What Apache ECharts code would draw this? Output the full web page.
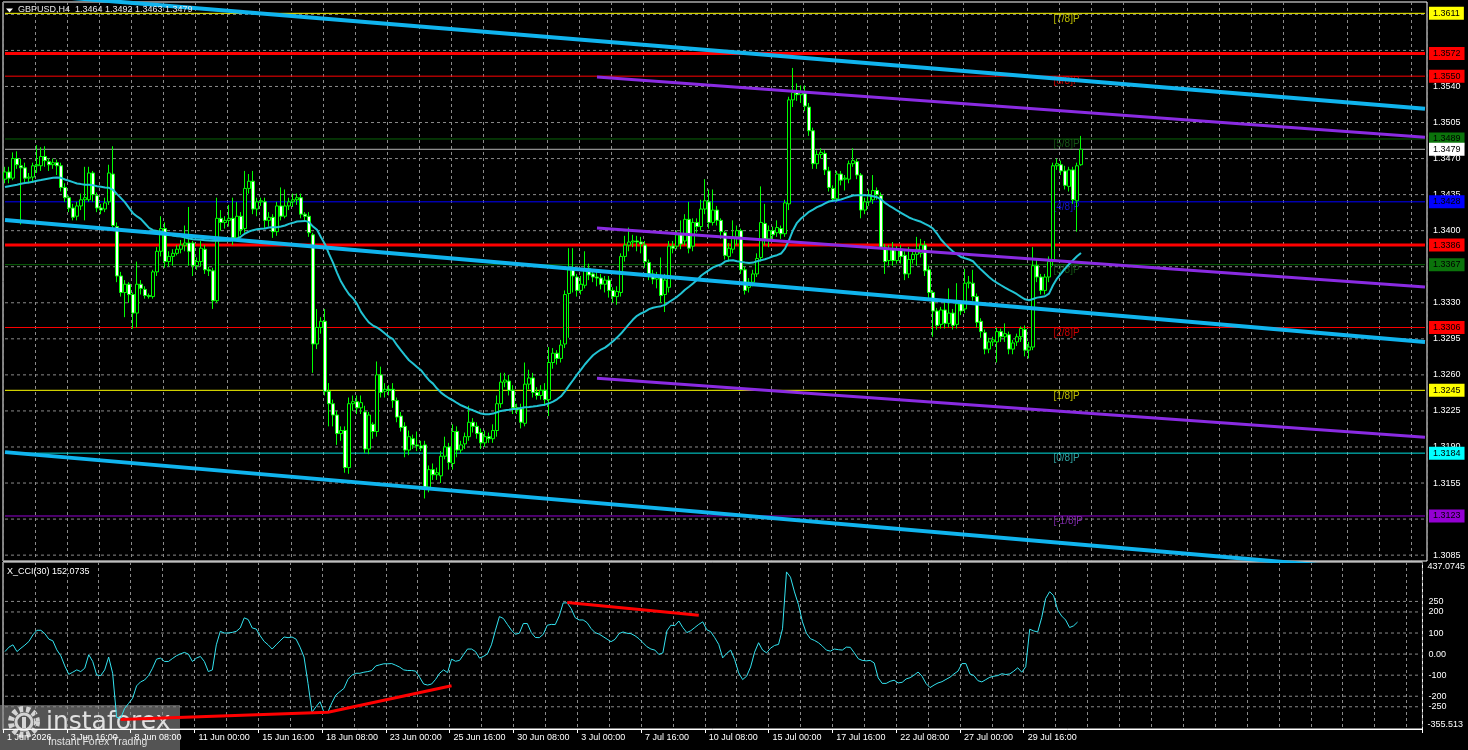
<!DOCTYPE html>
<html>
<head>
<meta charset="utf-8">
<script src="https://cdn.jsdelivr.net/npm/echarts@6/dist/echarts.min.js"></script>
<style>html,body{margin:0;padding:0;background:#000;overflow:hidden}#c{width:1468px;height:750px}</style>
</head>
<body>
<div id="c"></div>
<script>
// ---------------- DATA ----------------
const symbolTitle = 'GBPUSD,H4  1.3464 1.3492 1.3463 1.3479';
const cciTitle = 'X_CCI(30) 152.0735';

const tickLabels = ['1 Jun 2026','3 Jun 16:00','8 Jun 08:00','11 Jun 00:00','15 Jun 16:00','18 Jun 08:00',
  '23 Jun 00:00','25 Jun 16:00','30 Jun 08:00','3 Jul 00:00','7 Jul 16:00','10 Jul 08:00','15 Jul 00:00',
  '17 Jul 16:00','22 Jul 08:00','27 Jul 00:00','29 Jul 16:00'];

// [open, close, low, high]
const candles = [
[1.3450,1.3457,1.3446,1.3462],[1.3457,1.3451,1.3446,1.3462],[1.3451,1.3470,1.3449,1.3476],[1.3470,1.3464,1.3460,1.3477],
[1.3463,1.3461,1.3406,1.3470],[1.3461,1.3451,1.3447,1.3466],[1.3451,1.3452,1.3446,1.3456],[1.3452,1.3463,1.3448,1.3466],
[1.3463,1.3464,1.3456,1.3483],[1.3463,1.3472,1.3458,1.3481],[1.3472,1.3468,1.3462,1.3482],[1.3467,1.3464,1.3458,1.3470],
[1.3464,1.3466,1.3460,1.3470],[1.3466,1.3463,1.3454,1.3469],[1.3463,1.3442,1.3438,1.3466],[1.3442,1.3432,1.3428,1.3446],
[1.3432,1.3422,1.3418,1.3434],[1.3422,1.3413,1.3410,1.3426],[1.3414,1.3424,1.3410,1.3428],[1.3424,1.3430,1.3420,1.3436],
[1.3430,1.3432,1.3410,1.3462],[1.3430,1.3456,1.3428,1.3462],[1.3456,1.3435,1.3428,1.3458],[1.3434,1.3422,1.3418,1.3437],
[1.3422,1.3420,1.3416,1.3426],[1.3421,1.3427,1.3418,1.3432],[1.3428,1.3456,1.3425,1.3464],[1.3455,1.3405,1.3400,1.3482],
[1.3404,1.3356,1.3350,1.3408],[1.3356,1.3340,1.3336,1.3360],[1.3340,1.3348,1.3316,1.3352],[1.3348,1.3338,1.3330,1.3350],
[1.3338,1.3320,1.3305,1.3340],[1.3320,1.3348,1.3306,1.3370],[1.3348,1.3344,1.3338,1.3352],[1.3343,1.3337,1.3334,1.3346],
[1.3337,1.3336,1.3334,1.3339],[1.3336,1.3360,1.3334,1.3362],[1.3360,1.3380,1.3356,1.3384],[1.3380,1.3402,1.3375,1.3414],
[1.3402,1.3370,1.3364,1.3408],[1.3370,1.3375,1.3365,1.3380],[1.3375,1.3378,1.3366,1.3382],[1.3378,1.3382,1.3376,1.3386],
[1.3382,1.3386,1.3378,1.3391],[1.3386,1.3388,1.3380,1.3405],[1.3388,1.3380,1.3366,1.3423],[1.3388,1.3366,1.3356,1.3390],
[1.3366,1.3370,1.3362,1.3374],[1.3370,1.3383,1.3365,1.3390],[1.3382,1.3362,1.3358,1.3386],[1.3362,1.3361,1.3356,1.3365],
[1.3361,1.3332,1.3324,1.3364],[1.3332,1.3412,1.3330,1.3432],[1.3412,1.3408,1.3400,1.3420],[1.3408,1.3410,1.3402,1.3414],
[1.3410,1.3412,1.3404,1.3425],[1.3412,1.3393,1.3386,1.3432],[1.3393,1.3414,1.3390,1.3428],[1.3414,1.3401,1.3396,1.3418],
[1.3402,1.3441,1.3398,1.3458],[1.3441,1.3448,1.3436,1.3455],[1.3448,1.3421,1.3416,1.3458],[1.3421,1.3428,1.3414,1.3432],
[1.3428,1.3429,1.3424,1.3432],[1.3428,1.3410,1.3402,1.3432],[1.3410,1.3413,1.3404,1.3418],[1.3413,1.3399,1.3393,1.3416],
[1.3399,1.3424,1.3395,1.3428],[1.3424,1.3414,1.3410,1.3442],[1.3414,1.3424,1.3412,1.3440],[1.3424,1.3428,1.3420,1.3432],
[1.3428,1.3430,1.3423,1.3436],[1.3430,1.3432,1.3425,1.3436],[1.3432,1.3416,1.3412,1.3436],[1.3416,1.3414,1.3410,1.3418],
[1.3414,1.3398,1.3394,1.3418],[1.3396,1.3290,1.3262,1.3398],[1.3290,1.3306,1.3285,1.3324],[1.3306,1.3312,1.3300,1.3316],
[1.3312,1.3244,1.3240,1.3324],[1.3244,1.3232,1.3210,1.3252],[1.3232,1.3221,1.3210,1.3236],[1.3221,1.3203,1.3192,1.3225],
[1.3203,1.3206,1.3196,1.3210],[1.3206,1.3170,1.3165,1.3210],[1.3170,1.3232,1.3164,1.3238],[1.3232,1.3234,1.3225,1.3240],
[1.3234,1.3228,1.3222,1.3240],[1.3228,1.3233,1.3222,1.3240],[1.3224,1.3188,1.3184,1.3230],[1.3188,1.3221,1.3183,1.3224],
[1.3212,1.3205,1.3198,1.3214],[1.3205,1.3260,1.3200,1.3273],[1.3260,1.3243,1.3238,1.3268],[1.3244,1.3246,1.3238,1.3252],
[1.3246,1.3245,1.3240,1.3250],[1.3246,1.3235,1.3228,1.3252],[1.3235,1.3219,1.3214,1.3238],[1.3220,1.3209,1.3205,1.3224],
[1.3210,1.3187,1.3180,1.3214],[1.3187,1.3200,1.3182,1.3206],[1.3198,1.3192,1.3188,1.3202],[1.3192,1.3191,1.3186,1.3205],
[1.3191,1.3189,1.3186,1.3196],[1.3192,1.3151,1.3140,1.3196],[1.3151,1.3168,1.3146,1.3172],[1.3168,1.3163,1.3158,1.3174],
[1.3163,1.3165,1.3158,1.3170],[1.3162,1.3181,1.3155,1.3186],[1.3181,1.3190,1.3178,1.3200],[1.3190,1.3175,1.3168,1.3194],
[1.3174,1.3205,1.3168,1.3212],[1.3205,1.3187,1.3180,1.3210],[1.3187,1.3192,1.3184,1.3196],[1.3193,1.3200,1.3188,1.3204],
[1.3200,1.3214,1.3196,1.3230],[1.3214,1.3210,1.3204,1.3218],[1.3210,1.3203,1.3198,1.3214],[1.3204,1.3194,1.3188,1.3208],
[1.3194,1.3200,1.3190,1.3206],[1.3200,1.3198,1.3194,1.3204],[1.3198,1.3206,1.3194,1.3212],[1.3206,1.3232,1.3200,1.3240],
[1.3232,1.3253,1.3228,1.3262],[1.3253,1.3255,1.3248,1.3262],[1.3254,1.3245,1.3240,1.3260],[1.3245,1.3228,1.3222,1.3250],
[1.3228,1.3226,1.3222,1.3232],[1.3227,1.3214,1.3208,1.3232],[1.3213,1.3251,1.3210,1.3272],[1.3251,1.3257,1.3246,1.3265],
[1.3257,1.3243,1.3238,1.3262],[1.3243,1.3240,1.3236,1.3248],[1.3240,1.3245,1.3236,1.3250],[1.3245,1.3236,1.3230,1.3252],
[1.3236,1.3272,1.3220,1.3287],[1.3272,1.3281,1.3266,1.3286],[1.3281,1.3276,1.3270,1.3284],[1.3276,1.3289,1.3272,1.3294],
[1.3290,1.3338,1.3286,1.3342],[1.3339,1.3362,1.3296,1.3383],[1.3362,1.3356,1.3340,1.3383],[1.3355,1.3342,1.3336,1.3358],
[1.3342,1.3348,1.3338,1.3356],[1.3347,1.3363,1.3344,1.3380],[1.3363,1.3357,1.3352,1.3368],[1.3358,1.3355,1.3350,1.3362],
[1.3355,1.3354,1.3346,1.3360],[1.3354,1.3348,1.3343,1.3358],[1.3348,1.3352,1.3340,1.3356],[1.3352,1.3342,1.3335,1.3356],
[1.3342,1.3336,1.3330,1.3345],[1.3336,1.3341,1.3328,1.3346],[1.3340,1.3375,1.3336,1.3378],[1.3375,1.3386,1.3370,1.3395],
[1.3386,1.3389,1.3380,1.3403],[1.3389,1.3390,1.3384,1.3396],[1.3390,1.3389,1.3380,1.3395],[1.3389,1.3387,1.3378,1.3394],
[1.3386,1.3370,1.3364,1.3390],[1.3369,1.3358,1.3352,1.3372],[1.3358,1.3353,1.3348,1.3362],[1.3353,1.3355,1.3344,1.3360],
[1.3355,1.3337,1.3330,1.3374],[1.3338,1.3352,1.3321,1.3358],[1.3345,1.3385,1.3340,1.3390],[1.3385,1.3383,1.3378,1.3390],
[1.3385,1.3396,1.3382,1.3400],[1.3396,1.3387,1.3382,1.3410],[1.3390,1.3411,1.3386,1.3416],[1.3411,1.3383,1.3378,1.3428],
[1.3385,1.3408,1.3380,1.3412],[1.3408,1.3404,1.3398,1.3412],[1.3404,1.3421,1.3400,1.3430],[1.3421,1.3429,1.3416,1.3450],
[1.3428,1.3408,1.3402,1.3440],[1.3408,1.3420,1.3405,1.3440],[1.3420,1.3410,1.3405,1.3424],[1.3410,1.3399,1.3392,1.3412],
[1.3398,1.3376,1.3372,1.3400],[1.3375,1.3383,1.3370,1.3388],[1.3382,1.3394,1.3378,1.3410],[1.3394,1.3400,1.3386,1.3405],
[1.3400,1.3362,1.3358,1.3402],[1.3362,1.3342,1.3338,1.3365],[1.3345,1.3350,1.3340,1.3354],[1.3350,1.3358,1.3346,1.3362],
[1.3358,1.3373,1.3355,1.3378],[1.3374,1.3408,1.3370,1.3443],[1.3407,1.3392,1.3386,1.3426],[1.3392,1.3400,1.3384,1.3405],
[1.3400,1.3396,1.3390,1.3404],[1.3398,1.3403,1.3394,1.3410],[1.3402,1.3397,1.3392,1.3405],[1.3397,1.3427,1.3394,1.3430],
[1.3426,1.3527,1.3420,1.3530],[1.3527,1.3534,1.3520,1.3558],[1.3534,1.3532,1.3526,1.3543],[1.3532,1.3534,1.3524,1.3541],
[1.3533,1.3521,1.3516,1.3541],[1.3520,1.3497,1.3492,1.3524],[1.3497,1.3465,1.3460,1.3500],[1.3465,1.3474,1.3460,1.3478],
[1.3474,1.3476,1.3470,1.3480],[1.3475,1.3459,1.3454,1.3478],[1.3458,1.3442,1.3438,1.3462],[1.3441,1.3431,1.3428,1.3444],
[1.3431,1.3455,1.3428,1.3458],[1.3455,1.3449,1.3444,1.3458],[1.3450,1.3451,1.3439,1.3454],[1.3450,1.3465,1.3446,1.3468],
[1.3465,1.3468,1.3462,1.3480],[1.3467,1.3454,1.3450,1.3470],[1.3454,1.3420,1.3412,1.3456],[1.3420,1.3428,1.3416,1.3432],
[1.3428,1.3434,1.3424,1.3440],[1.3430,1.3439,1.3426,1.3454],[1.3439,1.3435,1.3430,1.3442],[1.3434,1.3384,1.3382,1.3437],
[1.3384,1.3370,1.3358,1.3387],[1.3371,1.3382,1.3366,1.3386],[1.3382,1.3371,1.3366,1.3389],[1.3371,1.3382,1.3368,1.3385],
[1.3382,1.3375,1.3368,1.3386],[1.3376,1.3358,1.3352,1.3380],[1.3358,1.3372,1.3354,1.3384],[1.3372,1.3377,1.3368,1.3380],
[1.3377,1.3382,1.3366,1.3394],[1.3378,1.3386,1.3374,1.3392],[1.3386,1.3361,1.3356,1.3390],[1.3362,1.3340,1.3334,1.3366],
[1.3340,1.3322,1.3297,1.3342],[1.3322,1.3308,1.3304,1.3325],[1.3309,1.3323,1.3305,1.3326],[1.3323,1.3310,1.3305,1.3332],
[1.3310,1.3320,1.3306,1.3344],[1.3320,1.3308,1.3304,1.3324],[1.3309,1.3329,1.3305,1.3349],[1.3329,1.3322,1.3318,1.3332],
[1.3324,1.3349,1.3320,1.3363],[1.3349,1.3350,1.3344,1.3356],[1.3349,1.3336,1.3332,1.3362],[1.3336,1.3311,1.3306,1.3339],
[1.3312,1.3302,1.3296,1.3315],[1.3301,1.3285,1.3280,1.3304],[1.3285,1.3292,1.3281,1.3296],[1.3292,1.3294,1.3288,1.3297],
[1.3292,1.3302,1.3272,1.3306],[1.3302,1.3297,1.3292,1.3305],[1.3297,1.3300,1.3292,1.3310],[1.3299,1.3285,1.3280,1.3302],
[1.3285,1.3291,1.3280,1.3294],[1.3292,1.3297,1.3288,1.3300],[1.3297,1.3305,1.3292,1.3307],[1.3304,1.3284,1.3278,1.3308],
[1.3284,1.3287,1.3276,1.3292],[1.3287,1.3366,1.3284,1.3384],[1.3366,1.3355,1.3350,1.3372],[1.3355,1.3342,1.3338,1.3358],
[1.3342,1.3355,1.3338,1.3358],[1.3355,1.3370,1.3350,1.3375],[1.3370,1.3463,1.3366,1.3466],[1.3463,1.3465,1.3459,1.3470],
[1.3464,1.3458,1.3454,1.3468],[1.3458,1.3444,1.3440,1.3463],[1.3443,1.3459,1.3438,1.3462],[1.3459,1.3430,1.3426,1.3462],
[1.3429,1.3463,1.3399,1.3466],[1.3464,1.3479,1.3463,1.3492]
];

const maValues = [
1.34423,1.34432,1.34439,1.34445,1.34455,1.34462,1.34468,1.34475,1.34484,1.34491,
1.34500,1.34507,1.34513,1.34517,1.34513,1.34497,1.34484,1.34471,1.34458,1.34452,
1.34445,1.34445,1.34442,1.34432,1.34426,1.34419,1.34416,1.34397,1.34355,1.34316,
1.34274,1.34222,1.34170,1.34138,1.34112,1.34070,1.34027,1.34005,1.33998,1.33992,
1.33979,1.33966,1.33953,1.33946,1.33943,1.33933,1.33924,1.33917,1.33914,1.33911,
1.33908,1.33904,1.33901,1.33901,1.33901,1.33901,1.33901,1.33908,1.33920,1.33943,
1.33972,1.33992,1.34005,1.34014,1.34018,1.34021,1.34031,1.34034,1.34034,1.34040,
1.34050,1.34066,1.34076,1.34089,1.34092,1.34095,1.34083,1.34040,1.34008,1.33937,
1.33869,1.33775,1.33690,1.33593,1.33506,1.33441,1.33383,1.33344,1.33289,1.33212,
1.33157,1.33108,1.33079,1.33060,1.33034,1.33001,1.32969,1.32946,1.32888,1.32839,
1.32790,1.32742,1.32710,1.32677,1.32645,1.32596,1.32548,1.32515,1.32467,1.32428,
1.32399,1.32373,1.32353,1.32327,1.32305,1.32288,1.32269,1.32256,1.32240,1.32224,
1.32217,1.32217,1.32224,1.32237,1.32250,1.32256,1.32262,1.32269,1.32272,1.32279,
1.32285,1.32288,1.32292,1.32298,1.32305,1.32311,1.32324,1.32340,1.32363,1.32392,
1.32440,1.32496,1.32548,1.32603,1.32651,1.32703,1.32748,1.32790,1.32820,1.32846,
1.32865,1.32894,1.32927,1.32962,1.33001,1.33047,1.33092,1.33137,1.33173,1.33196,
1.33215,1.33238,1.33251,1.33260,1.33267,1.33280,1.33306,1.33332,1.33358,1.33390,
1.33426,1.33455,1.33487,1.33520,1.33562,1.33591,1.33617,1.33643,1.33659,1.33672,
1.33700,1.33710,1.33713,1.33703,1.33697,1.33690,1.33687,1.33690,1.33703,1.33713,
1.33723,1.33736,1.33752,1.33762,1.33778,1.33826,1.33907,1.34005,1.34076,1.34118,
1.34150,1.34183,1.34205,1.34228,1.34244,1.34264,1.34283,1.34290,1.34296,1.34303,
1.34316,1.34329,1.34342,1.34345,1.34345,1.34345,1.34342,1.34335,1.34325,1.34303,
1.34270,1.34244,1.34222,1.34196,1.34173,1.34150,1.34128,1.34112,1.34099,1.34086,
1.34066,1.34047,1.34021,1.33972,1.33914,1.33872,1.33833,1.33797,1.33771,1.33745,
1.33732,1.33720,1.33703,1.33661,1.33622,1.33587,1.33551,1.33519,1.33493,1.33470,
1.33447,1.33425,1.33405,1.33383,1.33357,1.33334,1.33324,1.33337,1.33350,1.33357,
1.33363,1.33389,1.33470,1.33535,1.33583,1.33632,1.33674,1.33713,1.33752,1.33784
];

const cciValues = [
12,33,44,12,28,43,60,91,113,113,
97,71,63,20,-8,-56,-96,-86,-75,-83,
-67,-3,-35,-99,-102,-75,-14,-91,-300,-305,
-258,-234,-210,-151,-132,-123,-102,-67,-24,-19,
-35,-35,-21,-8,1,8,0,-35,-19,-11,
-35,-83,-75,44,108,100,100,103,108,124,
172,164,124,119,87,60,44,24,44,63,
81,78,81,71,33,-14,-139,-276,-250,-226,
-276,-274,-231,-194,-178,-163,-120,-100,-91,-91,
-86,-83,-78,-56,-51,-46,-46,-45,-53,-62,
-75,-78,-78,-81,-110,-142,-147,-142,-120,-91,
-75,-88,-24,-34,-30,-3,24,24,12,-19,
-11,1,44,113,178,169,141,114,94,99,
145,145,102,79,78,94,137,141,140,181,
243,243,216,173,162,162,149,121,102,95,
83,71,59,70,97,105,99,97,87,73,
54,35,24,19,-2,6,110,137,135,157,
126,102,111,126,141,153,116,106,78,46,
-18,3,19,-26,-89,-121,-105,-61,9,54,
19,6,28,41,46,120,390,365,295,235,
153,99,73,65,54,38,19,14,24,21,
19,33,32,6,-22,-30,-32,-30,-42,-113,
-139,-139,-129,-124,-137,-134,-118,-112,-100,-85,
-105,-140,-159,-147,-137,-131,-120,-110,-94,-81,
-45,-45,-94,-102,-126,-132,-121,-110,-105,-102,
-93,-97,-94,-81,-65,-86,-60,118,110,105,
173,264,296,277,210,181,162,126,134,152.0735
];

const priceGridValues = [1.3085,1.3120,1.3155,1.3190,1.3225,1.3260,1.3295,1.3330,1.3365,1.3400,1.3435,1.3470,1.3505,1.3540,1.3575,1.3610];
const cciGridValues = [250,200,100,0,-100,-200,-250];
const cciRange = [-355.513, 437.0745];
const priceRange = [1.30793, 1.36220];

const levelValues = [1.3611,1.3572,1.3550,1.3489,1.3479,1.3428,1.3386,1.3367,1.3306,1.3245,1.3184,1.3123];
const murreyValues = [1.3611,1.3550,1.3489,1.3428,1.3367,1.3306,1.3245,1.3184,1.3123];
const murreyNames = ['[7/8]P','[6/8]P','[5/8]P','[4/8]P','[3/8]P','[2/8]P','[1/8]P','[0/8]P','[-1/8]P'];

// trend lines: [[barIndex, value], ...]
const channelLines = [
  [[0,1.36312],[355,1.35184]],
  [[0,1.34103],[355,1.32919]],
  [[0,1.31850],[355,1.30665]]
];
const pitchLines = [
  [[148,1.35491],[355,1.34908]],
  [[148,1.34027],[355,1.33454]],
  [[148,1.32567],[355,1.31994]]
];
const cciTrendLines = [
  [[29,-310],[81,-276],[112,-150]],
  [[141,245],[174,184]]
];

// ---------------- STYLE ----------------
const FONT = "'Liberation Sans', Arial, sans-serif";
const SLOTS = 356;
const GRID_COLOR = '#8a8a8a';
const levelStyles = [
  {c:'#FFFF00', w:1, box:'#FFFF00'},
  {c:'#FF0000', w:3, box:'#FF0000'},
  {c:'#FF0000', w:1, box:'#FF0000'},
  {c:'#0A640A', w:1, box:'#0B730B'},
  {c:'#B4B4B4', w:1, box:'#FFFFFF'},
  {c:'#0000FF', w:1, box:'#0000FF'},
  {c:'#FF0000', w:3, box:'#FF0000'},
  {c:'#0A640A', w:1, box:'#0B730B'},
  {c:'#FF0000', w:1, box:'#FF0000'},
  {c:'#FFFF00', w:1, box:'#FFFF00'},
  {c:'#00E0E0', w:1, box:'#00FFFF'},
  {c:'#9400D3', w:1, box:'#9400D3'}
];
const murreyColors = ['#E6E600','#FF0000','#1A6A1A','#1A1AFF','#1A6A1A','#FF0000','#E6E600','#3CC8C8','#9932CC'];
const murreyBar = 262;

const cats = Array.from({length: SLOTS}, (_, i) => String(i));
const isTick = (i) => i % 16 === 0 && i / 16 < tickLabels.length;
const splitLine = {show:true, interval:(i) => i % 8 === 0, lineStyle:{color:GRID_COLOR, width:1, type:[3,3]}};

const series = [];

// horizontal price grid lines with right labels
priceGridValues.forEach(v => series.push({
  type:'line', xAxisIndex:0, yAxisIndex:0, z:1, silent:true, symbol:'none', clip:false,
  data:[[0, v], [SLOTS - 1, v]],
  lineStyle:{color:GRID_COLOR, width:1, type:[3,3]},
  endLabel:{show:true, distance:8, color:'#FFFFFF', fontSize:9, fontFamily:FONT, formatter:() => v.toFixed(4)}
}));

// level lines with coloured boxes
levelValues.forEach((v, k) => series.push({
  type:'line', xAxisIndex:0, yAxisIndex:0, z:2, silent:true, symbol:'none', clip:false,
  data:[[0, v], [SLOTS - 1, v]],
  lineStyle:{color:levelStyles[k].c, width:levelStyles[k].w},
  endLabel:{show:true, distance:4, color:'#000000', fontSize:9, fontFamily:FONT,
    backgroundColor:levelStyles[k].box, padding:[2,4,1,4], lineHeight:10, formatter:() => v.toFixed(4)}
}));

// murrey text labels
series.push({
  type:'scatter', xAxisIndex:0, yAxisIndex:0, z:3, silent:true, symbolSize:1,
  itemStyle:{color:'rgba(0,0,0,0)'},
  data: murreyValues.map((v, k) => ({value:[murreyBar, v], label:{color:murreyColors[k]}})),
  label:{show:true, position:[1,1], align:'left', verticalAlign:'top', fontSize:10, fontFamily:FONT,
    formatter:(p) => murreyNames[p.dataIndex]}
});

// candles
series.push({
  type:'candlestick', xAxisIndex:0, yAxisIndex:0, z:4, barWidth:3, silent:true,
  itemStyle:{color:'#000000', color0:'#FFFFFF', borderColor:'#00FF00', borderColor0:'#00FF00', borderWidth:1},
  data: candles
});

// moving average
series.push({
  type:'line', xAxisIndex:0, yAxisIndex:0, z:5, silent:true, symbol:'none',
  lineStyle:{color:'#22C4D4', width:2}, data: maValues
});

// channel lines
channelLines.forEach(l => series.push({
  type:'line', xAxisIndex:0, yAxisIndex:0, z:6, silent:true, symbol:'none', clip:true,
  lineStyle:{color:'#10B4EE', width:4}, data:l
}));
// pitchfork lines
pitchLines.forEach(l => series.push({
  type:'line', xAxisIndex:0, yAxisIndex:0, z:6, silent:true, symbol:'none', clip:true,
  lineStyle:{color:'#8A2BE2', width:3}, data:l
}));

// CCI grid lines + labels
cciGridValues.forEach(v => series.push({
  type:'line', xAxisIndex:1, yAxisIndex:1, z:1, silent:true, symbol:'none', clip:false,
  data:[[0, v], [SLOTS - 1, v]],
  lineStyle:{color:GRID_COLOR, width:1, type:[3,3]},
  endLabel:{show:true, distance:8, color:'#FFFFFF', fontSize:9, fontFamily:FONT,
    formatter:() => (v === 0 ? '0.00' : String(v))}
}));
// CCI line
series.push({
  type:'line', xAxisIndex:1, yAxisIndex:1, z:3, silent:true, symbol:'none',
  lineStyle:{color:'#33E3F0', width:1}, data: cciValues
});
// CCI trend lines
cciTrendLines.forEach(l => series.push({
  type:'line', xAxisIndex:1, yAxisIndex:1, z:4, silent:true, symbol:'none',
  lineStyle:{color:'#FF0000', width:3}, data:l
}));

const option = {
  backgroundColor:'#000',
  animation:false,
  textStyle:{fontFamily:FONT},
  grid:[
    {left:3, top:2, width:1424, height:559, show:true, borderColor:'#FFFFFF', borderWidth:1, backgroundColor:'#000'},
    {left:3, top:562, width:1424, height:167, show:true, borderColor:'#FFFFFF', borderWidth:1, backgroundColor:'#000'}
  ],
  xAxis:[
    {type:'category', gridIndex:0, data:cats, boundaryGap:true,
     axisLine:{show:false, onZero:false}, axisTick:{show:false}, axisLabel:{show:false}, splitLine},
    {type:'category', gridIndex:1, data:cats, boundaryGap:true, position:'bottom',
     axisLine:{show:true, onZero:false, lineStyle:{color:'#FFFFFF'}},
     axisTick:{show:true, interval:isTick, length:4, lineStyle:{color:'#FFFFFF'}},
     axisLabel:{show:true, interval:isTick, color:'#FFFFFF', fontSize:9, fontFamily:FONT, align:'left', margin:4,
       padding:[0,0,0,2], formatter:(v, i) => tickLabels[i / 16] || ''},
     splitLine}
  ],
  yAxis:[
    {type:'value', gridIndex:0, min:priceRange[0], max:priceRange[1], position:'right',
     axisLine:{show:false}, axisTick:{show:false}, axisLabel:{show:false}, splitLine:{show:false}},
    {type:'value', gridIndex:1, min:cciRange[0], max:cciRange[1], interval:cciRange[1]-cciRange[0], position:'right',
     axisLine:{show:false}, axisTick:{show:false}, splitLine:{show:false},
     axisLabel:{show:true, color:'#FFFFFF', fontSize:9, fontFamily:FONT, margin:5,
       verticalAlignMinLabel:'bottom', verticalAlignMaxLabel:'top',
       formatter:(v) => (v > 0 ? String(cciRange[1]) : String(cciRange[0]))}}
  ],
  graphic:[
    {type:'polygon', z:50, shape:{points:[[6,8.5],[13,8.5],[9.5,12.5]]}, style:{fill:'#FFFFFF'}},
    {type:'text', z:50, x:18, y:10, style:{text:symbolTitle, fill:'#E8E8E8', font:"9px 'Liberation Sans', Arial", verticalAlign:'middle'}},
    {type:'text', z:50, x:7, y:572, style:{text:cciTitle, fill:'#FFFFFF', font:"9px 'Liberation Sans', Arial", verticalAlign:'middle'}},
    {type:'group', x:0, y:705, z:100, children:[
      {type:'rect', shape:{x:0, y:0, width:180, height:45}, style:{fill:'rgba(135,135,135,0.62)'}},
      {type:'circle', shape:{cx:24, cy:17, r:13}, style:{fill:'none', stroke:'rgba(235,235,235,0.85)', lineWidth:6, lineDash:[4,3]}},
      {type:'circle', shape:{cx:24, cy:17, r:8}, style:{fill:'none', stroke:'rgba(235,235,235,0.85)', lineWidth:3}},
      {type:'rect', shape:{x:22, y:12, width:4, height:11}, style:{fill:'rgba(235,235,235,0.85)'}},
      {type:'text', x:46, y:17, style:{text:'instaforex', fill:'rgba(240,240,240,0.9)', font:"25px 'DejaVu Sans'", verticalAlign:'middle'}},
      {type:'text', x:48, y:37, style:{text:'Instant Forex Trading', fill:'rgba(240,240,240,0.9)', font:"10.5px 'Liberation Sans'", verticalAlign:'middle'}}
    ]}
  ],
  series
};

const chart = echarts.init(document.getElementById('c'), null, {renderer:'canvas', width:1468, height:750});
chart.setOption(option);
</script>
</body>
</html>
